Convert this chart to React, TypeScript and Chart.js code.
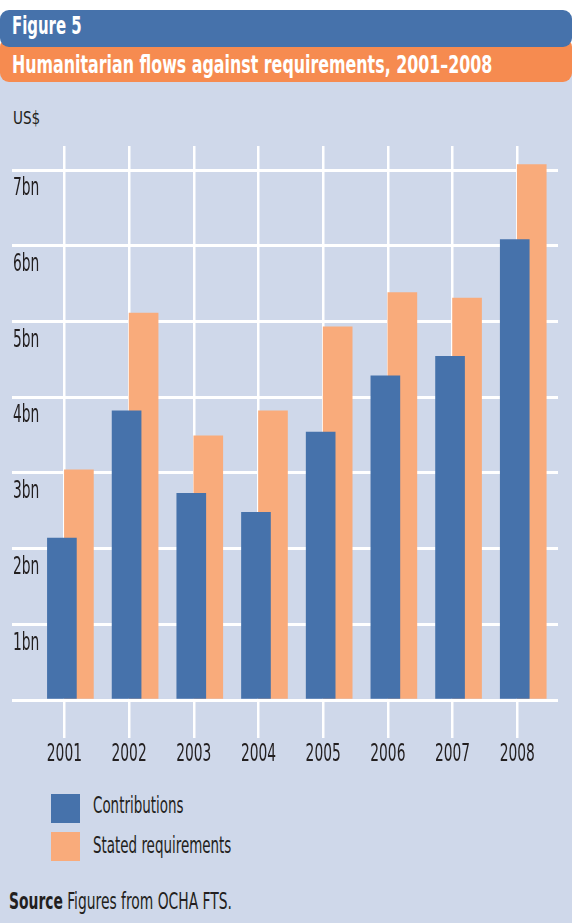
import React, { useEffect, useRef } from "react";
import { Chart, registerables } from "chart.js";

Chart.register(...registerables);

const years = [2001, 2002, 2003, 2004, 2005, 2006, 2007, 2008];
const contributions = [2.14, 3.82, 2.73, 2.48, 3.54, 4.28, 4.54, 6.08];
const requirements = [3.04, 5.11, 3.49, 3.82, 4.93, 5.38, 5.31, 7.07];
const yTickValues = [0, 1, 2, 3, 4, 5, 6, 7];
const yTickLabels = ["", "1bn", "2bn", "3bn", "4bn", "5bn", "6bn", "7bn"];
const seriesNames = ["Contributions", "Stated requirements"];

const BLUE = "#4672AB";
const ORANGE = "#F9AB7B";
const HEADER_ORANGE = "#F68B50";
const BG = "#CFD8EA";
const INK = "#231F20";
const NARROW = "'Liberation Sans Narrow', 'DejaVu Sans Condensed', 'DejaVu Sans', sans-serif";

// blue bar sits partly over the orange one (overlap of 12px)
const overlapShift = {
  id: "overlapShift",
  afterDatasetsUpdate(chart: any) {
    const meta = chart.getDatasetMeta(0);
    meta.data.forEach((el: any) => {
      el.x += 12;
    });
  },
};

// condensed look for tick labels (horizontal squeeze around each label origin)
const condenseLabels = {
  id: "condenseLabels",
  beforeDraw(chart: any) {
    const ctx = chart.ctx;
    const orig = ctx.rotate;
    ctx.__origRotate = orig;
    ctx.rotate = function (a: number) {
      orig.call(this, a);
      this.scale(0.64, 1);
    };
  },
  afterDraw(chart: any) {
    const ctx = chart.ctx;
    if (ctx.__origRotate) {
      ctx.rotate = ctx.__origRotate;
      delete ctx.__origRotate;
    }
  },
};

const Squeeze = ({ k, children }: { k: number; children: React.ReactNode }) => (
  <span style={{ display: "inline-block", transform: `scaleX(${k})`, transformOrigin: "left top", whiteSpace: "nowrap" }}>
    {children}
  </span>
);

export default function App() {
  const canvasRef = useRef<HTMLCanvasElement | null>(null);

  useEffect(() => {
    if (!canvasRef.current) return;
    const chart = new Chart(canvasRef.current, {
      type: "bar",
      data: {
        labels: years,
        datasets: [
          {
            label: seriesNames[0],
            data: contributions,
            backgroundColor: BLUE,
            borderWidth: 0,
            barThickness: 29,
          },
          {
            label: seriesNames[1],
            data: requirements,
            backgroundColor: ORANGE,
            borderWidth: 0,
            barThickness: 29,
          },
        ],
      },
      options: {
        animation: false,
        responsive: false,
        devicePixelRatio: 1,
        layout: { padding: { left: 12, right: 14, top: 64, bottom: 0 } },
        plugins: { legend: { display: false }, tooltip: { enabled: false }, title: { display: false } },
        scales: {
          x: {
            type: "linear",
            min: 2000.19,
            max: 2008.63,
            offset: false,
            afterBuildTicks: (s: any) => {
              s.ticks = years.map((v) => ({ value: v }));
            },
            afterFit: (s: any) => {
              s.height = 82;
            },
            grid: {
              offset: false,
              color: "#FFFFFF",
              lineWidth: 2.5,
              drawTicks: true,
              tickLength: 38,
            },
            border: { display: false },
            ticks: {
              autoSkip: false,
              maxRotation: 0,
              padding: 2,
              color: INK,
              font: { family: NARROW, size: 24 },
              callback: (v: any) => String(v),
            },
          },
          y: {
            type: "linear",
            min: 0,
            max: 7.317,
            afterBuildTicks: (s: any) => {
              s.ticks = yTickValues.map((v) => ({ value: v }));
            },
            afterFit: (s: any) => {
              s.width = 0;
            },
            grid: { color: "#FFFFFF", lineWidth: 3, drawTicks: false },
            border: { display: false },
            ticks: {
              mirror: true,
              padding: 1,
              labelOffset: 19,
              color: INK,
              font: { family: NARROW, size: 24 },
              callback: (_v: any, i: number) => yTickLabels[i],
            },
          },
        },
      },
      plugins: [overlapShift, condenseLabels],
    } as any);
    return () => chart.destroy();
  }, []);

  const abs = (s: React.CSSProperties): React.CSSProperties => ({ position: "absolute", ...s });

  return (
    <div style={abs({ left: 0, top: 0, width: 572, height: 923, background: "#FFFFFF", overflow: "hidden", fontFamily: NARROW, color: INK })}>
      <div style={abs({ left: 0, top: 60, width: 572, height: 863, background: BG })} />
      <div style={abs({ left: 0, top: 38, width: 572, height: 44, background: HEADER_ORANGE, borderRadius: 9 })} />
      <div style={abs({ left: 0, top: 10, width: 572, height: 37, background: BLUE, borderRadius: 9 })} />
      <div style={abs({ left: 12, top: 14, fontSize: 24, lineHeight: 1, fontWeight: 700, color: "#FFFFFF" })}>
        <Squeeze k={0.69}>Figure 5</Squeeze>
      </div>
      <div style={abs({ left: 12, top: 52, fontSize: 25, lineHeight: 1, fontWeight: 700, color: "#FFFFFF" })}>
        <Squeeze k={0.705}>Humanitarian flows against requirements, 2001–2008</Squeeze>
      </div>
      <div style={abs({ left: 13, top: 109, fontSize: 18, lineHeight: 1 })}>
        <Squeeze k={0.84}>US$</Squeeze>
      </div>
      <div style={abs({ left: 0, top: 82, width: 572, height: 700 })}>
        <canvas ref={canvasRef} width={572} height={700} style={{ display: "block" }} />
      </div>
      <div style={abs({ left: 51, top: 794, width: 29, height: 29, background: BLUE })} />
      <div style={abs({ left: 51, top: 832, width: 29, height: 29, background: ORANGE })} />
      <div style={abs({ left: 93, top: 794, fontSize: 23, lineHeight: 1 })}>
        <Squeeze k={0.65}>{seriesNames[0]}</Squeeze>
      </div>
      <div style={abs({ left: 93, top: 834, fontSize: 23, lineHeight: 1 })}>
        <Squeeze k={0.65}>{seriesNames[1]}</Squeeze>
      </div>
      <div style={abs({ left: 9, top: 890, fontSize: 23, lineHeight: 1 })}>
        <Squeeze k={0.67}>
          <span style={{ fontWeight: 700 }}>Source</span> Figures from OCHA FTS.
        </Squeeze>
      </div>
    </div>
  );
}
